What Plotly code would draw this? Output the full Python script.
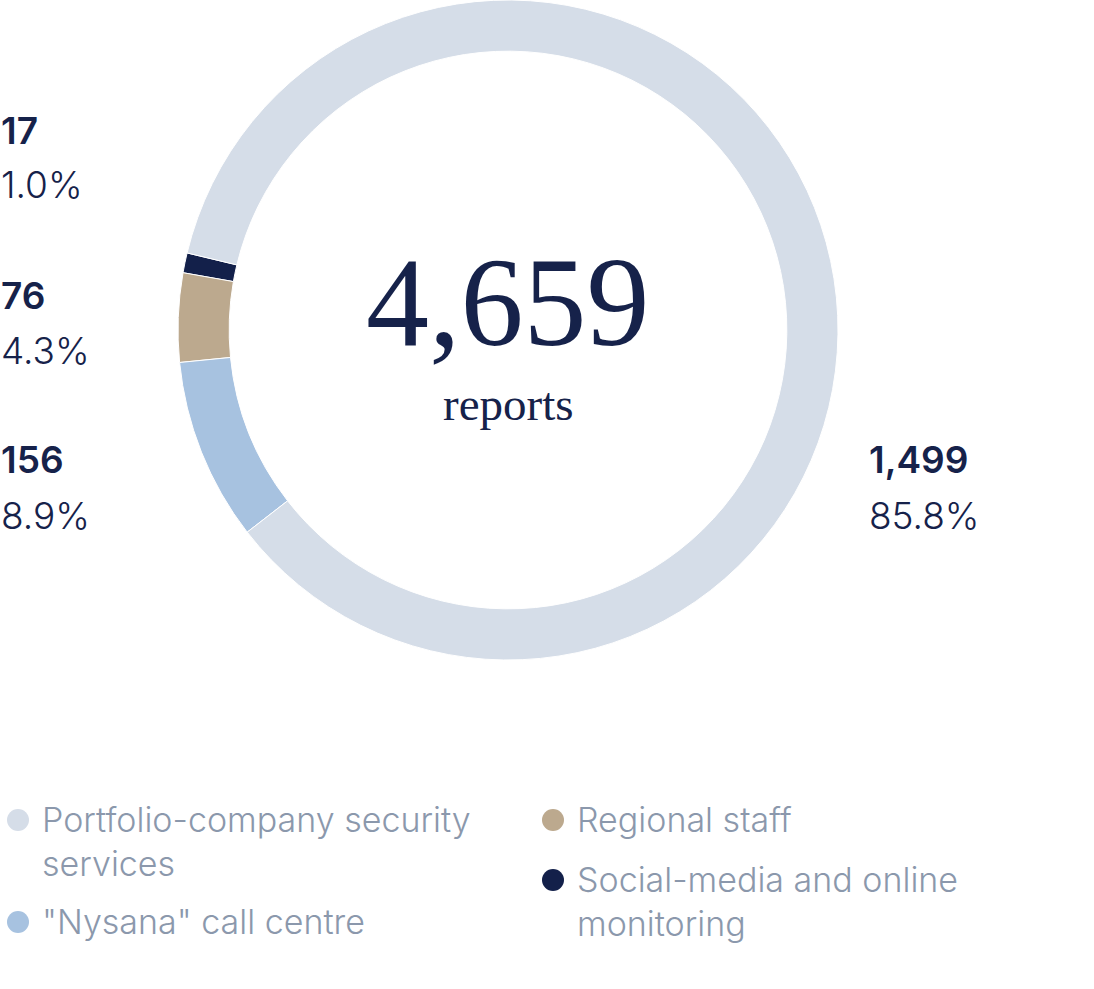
import plotly.graph_objects as go

# data
sources = ["Social-media and online monitoring", "Regional staff",
           "\"Nysana\" call centre", "Portfolio-company security services"]
reports = [17, 76, 156, 1499]
shares = [1.0, 4.3, 8.9, 85.8]
total_label = "4,659"
colors = ["#13204a", "#bca98e", "#a7c2e0", "#d5dde8"]

W, H = 1094, 989
NAVY = "#16224a"
GREY_TXT = "#8b98ac"


def px(x):
    return x / W


def py(y):
    return 1 - y / H


fig = go.Figure()

fig.add_trace(go.Pie(
    labels=sources,
    values=reports,
    marker=dict(colors=colors, line=dict(color="white", width=1)),
    hole=0.845,
    sort=False,
    direction="counterclockwise",
    rotation=-80,
    textinfo="none",
    hoverinfo="label+value+percent",
    showlegend=False,
    domain=dict(x=[px(178), px(838)], y=[py(660), py(0)]),
))

# value / share labels next to the ring
label_pos = {0: (-1, 130), 1: (-1, 295), 2: (-1, 460), 3: (867, 460)}
annotations = []
for i, (n, s) in enumerate(zip(reports, shares)):
    x0, y0 = label_pos[i]
    annotations.append(dict(
        x=px(x0), y=py(y0), xref="paper", yref="paper",
        xanchor="left", yanchor="middle", showarrow=False,
        text=f"{n:,}",
        font=dict(family="Inter", size=37, color=NAVY, weight=600),
    ))
    annotations.append(dict(
        x=px(x0), y=py(y0 + 55), xref="paper", yref="paper",
        xanchor="left", yanchor="middle", showarrow=False,
        text=f"{s:.1f}%",
        font=dict(family="Inter", size=37, color=NAVY, weight=300),
    ))

# centre text
annotations.append(dict(
    x=px(508), y=py(302), xref="paper", yref="paper",
    xanchor="center", yanchor="middle", showarrow=False,
    text=total_label,
    font=dict(family="Liberation Serif", size=126, color=NAVY),
))
annotations.append(dict(
    x=px(508), y=py(404), xref="paper", yref="paper",
    xanchor="center", yanchor="middle", showarrow=False,
    text="reports",
    font=dict(family="Liberation Serif", size=47, color=NAVY),
))

# custom legend (two columns, round markers)
legend_items = [
    (3, 18, 820, "Portfolio-company security<br>services"),
    (2, 18, 922, "\"Nysana\" call centre"),
    (1, 553, 820, "Regional staff"),
    (0, 553, 880, "Social-media and online<br>monitoring"),
]
shapes = []
r = 11
for idx, cx, cy, txt in legend_items:
    shapes.append(dict(
        type="circle", xref="paper", yref="paper",
        x0=px(cx - r), x1=px(cx + r), y0=py(cy + r), y1=py(cy - r),
        fillcolor=colors[idx], line=dict(width=0),
    ))
    annotations.append(dict(
        x=px(cx + 22), y=py(cy - 23), xref="paper", yref="paper",
        xanchor="left", yanchor="top", align="left", showarrow=False,
        text=txt,
        font=dict(family="Inter", size=34, color=GREY_TXT, weight=300),
    ))

fig.update_layout(
    width=W, height=H,
    margin=dict(l=0, r=0, t=0, b=0),
    paper_bgcolor="white",
    plot_bgcolor="white",
    annotations=annotations,
    shapes=shapes,
)

fig.write_html("out.html", config={"displayModeBar": False},
               post_script="document.body.style.margin='0';")
